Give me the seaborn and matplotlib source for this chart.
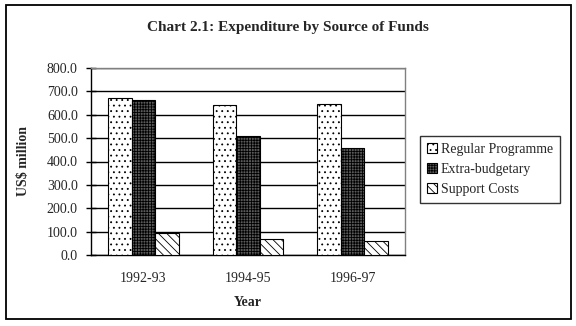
import matplotlib
matplotlib.use("Agg")
import matplotlib.pyplot as plt
import matplotlib.patches as mpatches
import seaborn as sns
import pandas as pd

years = ["1992-93", "1994-95", "1996-97"]
series = ["Regular Programme", "Extra-budgetary", "Support Costs"]
regular = [670, 640, 645]
extra = [665, 507, 456]
support = [93, 67, 58]
yticks = [0, 100, 200, 300, 400, 500, 600, 700, 800]

rows = []
for name, vals in zip(series, [regular, extra, support]):
    for yr, v in zip(years, vals):
        rows.append({"Year": yr, "Source": name, "Value": v})
df = pd.DataFrame(rows)

sns.set_style("white")
plt.rcParams["font.family"] = ["Liberation Serif", "DejaVu Serif"]
plt.rcParams["hatch.linewidth"] = 0.6

W, H = 576, 326
fig = plt.figure(figsize=(W / 100, H / 100), dpi=100)
fig.patch.set_facecolor("white")
ax = fig.add_axes([91 / W, (H - 255) / H, (405 - 91) / W, (255 - 68) / H])

sns.barplot(data=df, x="Year", y="Value", hue="Source", hue_order=series,
            order=years, width=0.675, gap=0, ax=ax, legend=False,
            palette=["white", "white", "white"], edgecolor="black",
            linewidth=0.8, saturation=1, zorder=3)

hatches = ["...", "++++++", "\\\\\\\\"]
fills = ["white", "#5a5a5a", "white"]
for cont, h, fc in zip(ax.containers, hatches, fills):
    for p in cont:
        p.set_hatch(h)
        p.set_facecolor(fc)
        p.set_edgecolor("black")

ax.set_ylim(0, 800)
ax.set_yticks(yticks)
ax.set_yticklabels([f"{v:.1f}" for v in yticks], fontsize=10)
ax.yaxis.grid(True, color="black", linewidth=1, zorder=0)
ax.set_axisbelow(True)
ax.set_xlim(-0.5, 2.5)
ax.set_xticks([0, 1, 2])
ax.set_xticklabels(years, fontsize=10)
ax.set_xticks([-0.5, 0.5, 1.5, 2.5], minor=True)
ax.tick_params(axis="x", which="major", length=0, pad=12)
ax.tick_params(axis="x", which="minor", length=5, width=1, direction="out", color="black")
ax.tick_params(axis="y", length=7, width=1, direction="inout", color="black", pad=6, left=True)

for s in ["left", "bottom"]:
    ax.spines[s].set_color("black")
    ax.spines[s].set_linewidth(1)
for s in ["top", "right"]:
    ax.spines[s].set_color("#808080")
    ax.spines[s].set_linewidth(1)

ax.set_xlabel("Year", fontsize=10, fontweight="bold", labelpad=8)
ax.set_ylabel("US$ million", fontsize=10, fontweight="bold", labelpad=12)

fig.text(288 / W, 1 - 28 / H, "Chart 2.1: Expenditure by Source of Funds",
         ha="center", va="center", fontsize=11, fontweight="bold")

handles = [mpatches.Patch(facecolor=fc, edgecolor="black", hatch=h, linewidth=0.8)
           for h, fc in zip(hatches, fills)]
leg = fig.legend(handles, series, loc="upper left",
                 bbox_to_anchor=(420 / W, 1 - 136 / H), fontsize=10,
                 frameon=True, fancybox=False, edgecolor="black",
                 handlelength=0.7, handleheight=0.7, handletextpad=0.3,
                 borderpad=0.5, labelspacing=0.5, borderaxespad=0)
leg.get_frame().set_linewidth(1)

fig.patches.append(mpatches.Rectangle((6 / W, 1 - 319 / H), (571 - 6) / W, (319 - 5) / H,
                                      transform=fig.transFigure, fill=False,
                                      edgecolor="black", linewidth=1.3))

fig.savefig("out.png", dpi=100)
